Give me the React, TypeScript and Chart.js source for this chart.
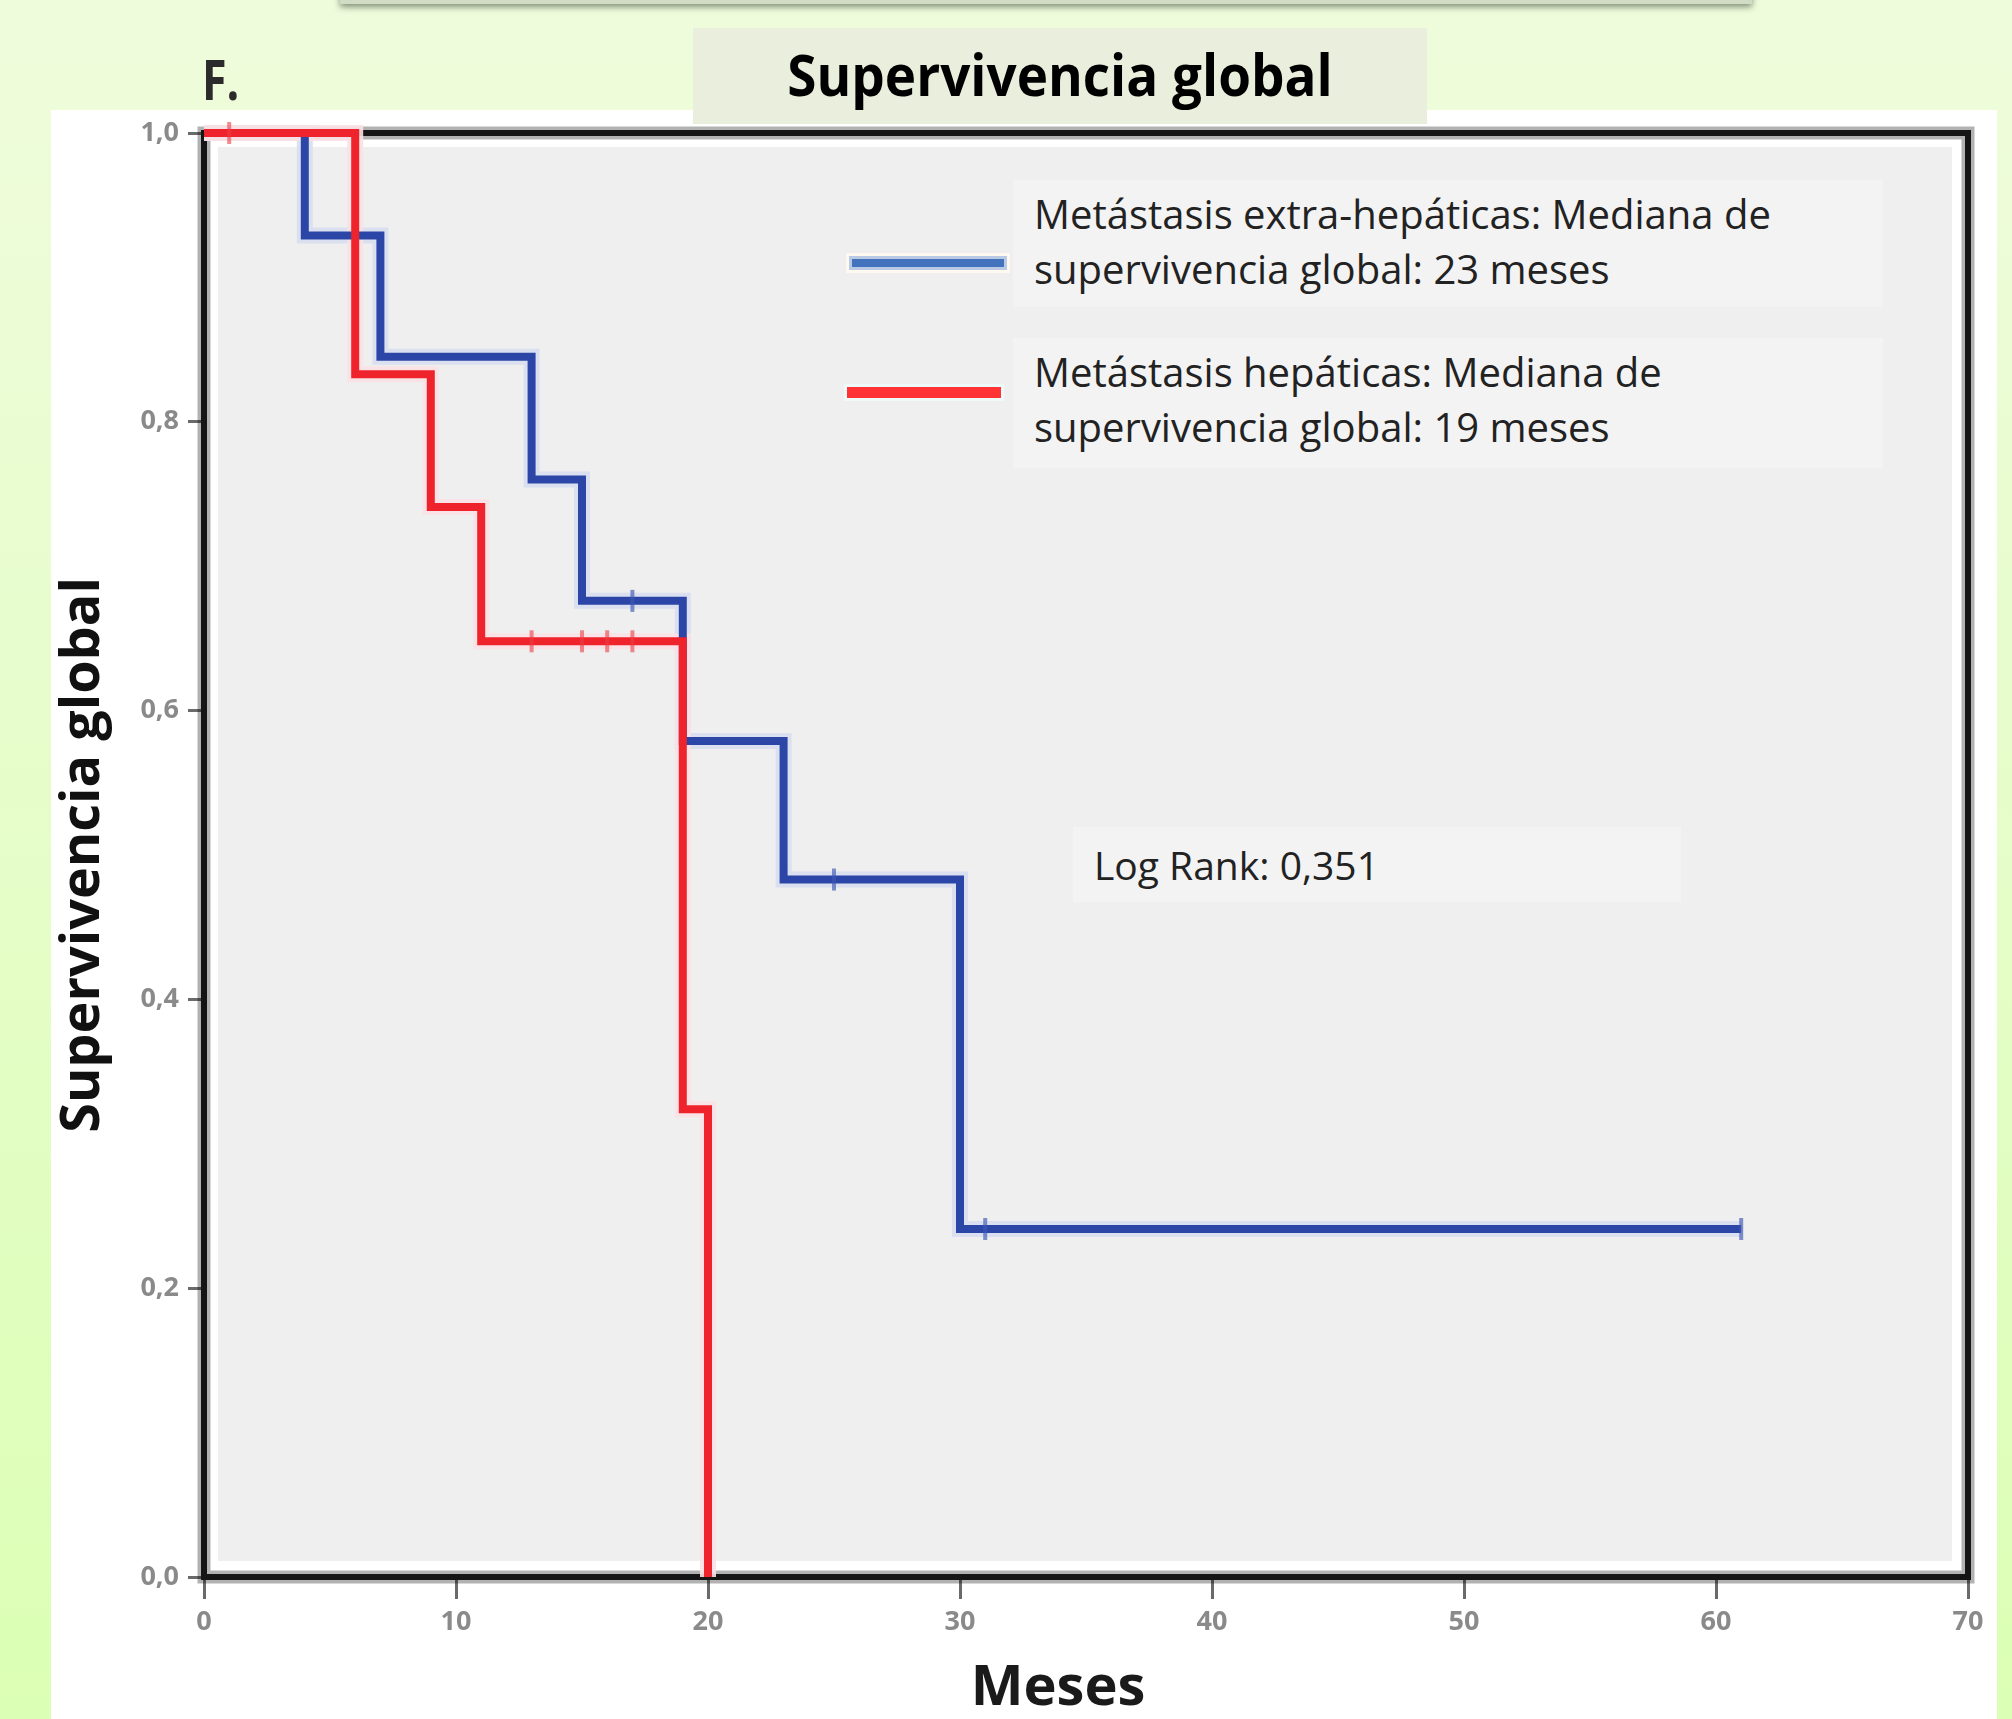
import React, { useEffect, useRef } from "react";
import { Chart, registerables } from "chart.js";

Chart.register(...registerables);

// ---- data ----
const xTickLabels = ["0", "10", "20", "30", "40", "50", "60", "70"];
const yTickLabels = ["0,0", "0,2", "0,4", "0,6", "0,8", "1,0"];

// Metástasis extra-hepáticas (Kaplan-Meier steps: time, survival after event)
const extraTimes = [0, 4, 7, 13, 15, 19, 23, 30, 61];
const extraSurv = [1, 0.929, 0.845, 0.76, 0.676, 0.579, 0.483, 0.241, 0.241];
const extraCensorTimes = [17, 25, 31, 61];
const extraCensorSurv = [0.676, 0.483, 0.241, 0.241];

// Metástasis hepáticas
const hepTimes = [0, 6, 9, 11, 19, 20];
const hepSurv = [1, 0.833, 0.741, 0.648, 0.324, 0];
const hepCensorTimes = [1, 13, 15, 16, 17];
const hepCensorSurv = [1, 0.648, 0.648, 0.648, 0.648];

const legendExtra = ["Metástasis extra-hepáticas: Mediana de", "supervivencia global: 23 meses"];
const legendHep = ["Metástasis hepáticas: Mediana de", "supervivencia global: 19 meses"];
const chartTitle = "Supervivencia global";
const yTitle = "Supervivencia global";
const xTitle = "Meses";
const panelLabel = "F.";
const logRankText = "Log Rank: 0,351";

const toPoints = (xs: number[], ys: number[]) => xs.map((x, i) => ({ x, y: ys[i] }));

const FONT = "'Open Sans', 'DejaVu Sans', sans-serif";

const framePlugin = {
  id: "kmFrame",
  afterLayout(chart: any) {
    // shift the x-axis title slightly left of the plot centre, as in the original figure
    const xs = chart.scales.x;
    if (xs) xs.left -= 56;
  },
  beforeDatasetsDraw(chart: any) {
    const { ctx, chartArea } = chart;
    const { left, top, right, bottom } = chartArea;
    ctx.save();
    ctx.fillStyle = "#efefef";
    ctx.fillRect(left + 14, top + 14, right - left - 30, bottom - top - 30);
    ctx.strokeStyle = "rgba(0,0,0,0.3)";
    ctx.lineWidth = 13;
    ctx.strokeRect(left, top, right - left, bottom - top);
    ctx.strokeStyle = "#151515";
    ctx.lineWidth = 6;
    ctx.strokeRect(left, top, right - left, bottom - top);
    ctx.restore();
  },
};

function KMChart() {
  const ref = useRef<HTMLCanvasElement | null>(null);
  useEffect(() => {
    if (!ref.current) return;
    Chart.defaults.font.family = FONT;
    const lineBase = { stepped: true, pointRadius: 0, clip: false as any, fill: false, tension: 0 };
    const censorBase = {
      showLine: false,
      pointStyle: "line" as const,
      pointRotation: 90,
      pointRadius: 11,
      pointBorderWidth: 4,
      clip: false as any,
    };
    const chart = new Chart(ref.current, {
      type: "line",
      data: {
        datasets: [
          {
            ...censorBase,
            label: "hep-censor",
            data: toPoints(hepCensorTimes, hepCensorSurv),
            borderColor: "rgba(236,60,66,0.6)",
            pointBorderColor: "rgba(236,60,66,0.6)",
            order: 0,
          },
          {
            ...censorBase,
            label: "extra-censor",
            data: toPoints(extraCensorTimes, extraCensorSurv),
            borderColor: "rgba(60,88,180,0.65)",
            pointBorderColor: "rgba(60,88,180,0.65)",
            order: 1,
          },
          {
            ...lineBase,
            label: legendHep.join(" "),
            data: toPoints(hepTimes, hepSurv),
            borderColor: "#ef232b",
            borderWidth: 8,
            order: 2,
          },
          {
            ...lineBase,
            label: legendExtra.join(" "),
            data: toPoints(extraTimes, extraSurv),
            borderColor: "#2c46a7",
            borderWidth: 8,
            order: 3,
          },
          {
            ...lineBase,
            label: "hep-halo",
            data: toPoints(hepTimes, hepSurv),
            borderColor: "rgba(250,225,228,0.9)",
            borderWidth: 16,
            order: 4,
          },
          {
            ...lineBase,
            label: "extra-halo",
            data: toPoints(extraTimes, extraSurv),
            borderColor: "rgba(215,222,240,0.9)",
            borderWidth: 16,
            order: 5,
          },
        ],
      },
      options: {
        responsive: false,
        animation: false,
        devicePixelRatio: 1,
        layout: { padding: { top: 133, right: 44, left: 0, bottom: 0 } },
        plugins: {
          legend: { display: false },
          tooltip: { enabled: false },
          title: { display: false },
        },
        scales: {
          x: {
            type: "linear",
            min: 0,
            max: 70,
            ticks: {
              stepSize: 10,
              color: "#8a8a8a",
              font: { family: FONT, size: 27, weight: "bold" },
              padding: 7,
              maxRotation: 0,
              autoSkip: false,
              callback: (v: any) => xTickLabels[Math.round(Number(v) / 10)] ?? "",
            },
            grid: {
              display: true,
              drawOnChartArea: false,
              drawTicks: true,
              tickLength: 22,
              tickWidth: 3,
              tickColor: "#6a6a6a",
            },
            border: { display: false },
            title: {
              display: true,
              text: xTitle,
              color: "#1a1a1a",
              font: { family: FONT, size: 56, weight: "bold", lineHeight: 1 },
              padding: { top: 0, bottom: 2 },
            },
            afterFit(s: any) {
              s.height = 142;
              s.paddingLeft = 0;
              s.paddingRight = 0;
            },
          },
          y: {
            type: "linear",
            min: 0,
            max: 1,
            ticks: {
              stepSize: 0.2,
              color: "#8a8a8a",
              font: { family: FONT, size: 27, weight: "bold" },
              padding: 9,
              autoSkip: false,
              callback: (v: any) => yTickLabels[Math.round(Number(v) * 5)] ?? "",
            },
            grid: {
              display: true,
              drawOnChartArea: false,
              drawTicks: true,
              tickLength: 16,
              tickWidth: 3,
              tickColor: "#6a6a6a",
            },
            border: { display: false },
            title: {
              display: true,
              text: yTitle,
              color: "#111111",
              font: { family: FONT, size: 54, weight: "bold", lineHeight: 1 },
              padding: { top: 57, bottom: 0 },
            },
            afterFit(s: any) {
              s.width = 204;
              s.paddingTop = 0;
              s.paddingBottom = 0;
            },
          },
        },
      },
      plugins: [framePlugin],
    });
    return () => chart.destroy();
  }, []);
  return (
    <canvas
      ref={ref}
      width={2012}
      height={1719}
      style={{ position: "absolute", left: 0, top: 0, width: 2012, height: 1719, display: "block" }}
    />
  );
}

const legendText: React.CSSProperties = {
  position: "absolute",
  fontFamily: FONT,
  fontSize: 40,
  lineHeight: "55px",
  color: "#222",
  whiteSpace: "nowrap",
};

export default function App() {
  return (
    <div
      style={{
        position: "absolute",
        left: 0,
        top: 0,
        width: 2012,
        height: 1719,
        overflow: "hidden",
        background: "linear-gradient(to bottom, #effcdc 0%, #e6fdca 45%, #dbffb4 100%)",
      }}
    >
      {/* shadow bar at top */}
      <div
        style={{
          position: "absolute",
          left: 340,
          top: -12,
          width: 1412,
          height: 16,
          background: "#d2dcc4",
          boxShadow: "0 3px 6px rgba(60,70,50,0.6)",
        }}
      />
      {/* white panel */}
      <div style={{ position: "absolute", left: 51, top: 110, width: 1946, height: 1640, background: "#ffffff" }} />
      {/* title box */}
      <div
        style={{
          position: "absolute",
          left: 693,
          top: 28,
          width: 734,
          height: 96,
          background: "#eaeedc",
        }}
      />
      <div
        style={{
          position: "absolute",
          left: 693,
          top: 46,
          width: 734,
          textAlign: "center",
          fontFamily: FONT,
          fontWeight: 700,
          fontSize: 57,
          lineHeight: 1,
          color: "#000",
          whiteSpace: "nowrap",
          transform: "scaleX(0.93)",
          transformOrigin: "center",
        }}
      >
        {chartTitle}
      </div>
      <div
        style={{
          position: "absolute",
          left: 202,
          top: 50,
          fontFamily: FONT,
          fontWeight: 700,
          fontSize: 56,
          lineHeight: 1,
          color: "#2b2b2b",
          transform: "scaleX(0.8)",
          transformOrigin: "left",
        }}
      >
        {panelLabel}
      </div>

      <KMChart />

      {/* legend */}
      <div style={{ position: "absolute", left: 1013, top: 180, width: 870, height: 127, background: "#f3f3f3" }} />
      <div style={{ position: "absolute", left: 1013, top: 338, width: 870, height: 130, background: "#f3f3f3" }} />
      <div
        style={{
          position: "absolute",
          left: 852,
          top: 259,
          width: 152,
          height: 8,
          background: "#4373bd",
          boxShadow: "0 0 0 3px rgba(170,190,225,0.8), 0 0 0 6px rgba(255,250,240,0.9)",
        }}
      />
      <div
        style={{
          position: "absolute",
          left: 847,
          top: 387,
          width: 154,
          height: 11,
          background: "#ff3333",
          boxShadow: "0 0 0 3px rgba(240,250,250,0.9)",
        }}
      />
      <div style={{ ...legendText, left: 1034, top: 186 }}>
        {legendExtra[0]}
        <br />
        {legendExtra[1]}
      </div>
      <div style={{ ...legendText, left: 1034, top: 344 }}>
        {legendHep[0]}
        <br />
        {legendHep[1]}
      </div>

      {/* log rank */}
      <div style={{ position: "absolute", left: 1073, top: 827, width: 608, height: 75, background: "#f3f3f3" }} />
      <div
        style={{
          position: "absolute",
          left: 1094,
          top: 845,
          fontFamily: FONT,
          fontSize: 39,
          lineHeight: 1,
          color: "#222",
          whiteSpace: "nowrap",
        }}
      >
        {logRankText}
      </div>
    </div>
  );
}
